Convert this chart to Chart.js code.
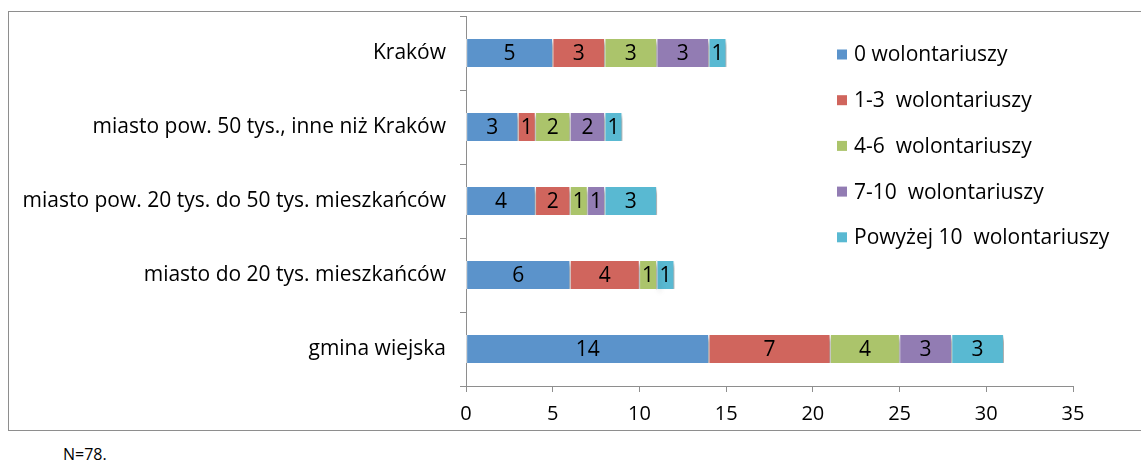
<!DOCTYPE html>
<html lang="pl">
<head>
<meta charset="utf-8">
<title>Liczba wolontariuszy wg typu gminy</title>
<script src="https://cdn.jsdelivr.net/npm/chart.js@4/dist/chart.umd.min.js"></script>
<style>
  html, body { margin: 0; padding: 0; background: #fff; }
  body { width: 1141px; height: 462px; position: relative; overflow: hidden; font-family: "Open Sans", sans-serif; }
  #frame { position: absolute; left: 8px; top: 11px; width: 1150px; height: 418px; border: 1px solid #8e8e8e; }
  #chart { position: absolute; left: 1px; top: 0px; }
  #note { position: absolute; left: 63px; top: 446px; font-size: 16px; line-height: 16px; color: #000; }
</style>
</head>
<body>
<div id="frame"><canvas id="chart" width="1132" height="418"></canvas></div>
<div id="note">N=78.</div>
<script>
// Kategorie (typ gminy), od góry do dołu
const categories = [
  'Kraków',
  'miasto pow. 50 tys., inne niż Kraków',
  'miasto pow. 20 tys. do 50 tys. mieszkańców',
  'miasto do 20 tys. mieszkańców',
  'gmina wiejska'
];

// Liczba organizacji wg liczby wolontariuszy
const seriesNames = [
  '0 wolontariuszy',
  '1-3  wolontariuszy',
  '4-6  wolontariuszy',
  '7-10  wolontariuszy',
  'Powyżej 10  wolontariuszy'
];
const zero      = [5, 3, 4, 6, 14];
const oneThree  = [3, 1, 2, 4, 7];
const fourSix   = [3, 2, 1, 1, 4];
const sevenTen  = [3, 2, 1, 0, 3];
const overTen   = [1, 1, 3, 1, 3];

const xTicks = [0, 5, 10, 15, 20, 25, 30, 35];

const colors = ['#5b93cb', '#d0655d', '#abc46b', '#927cb3', '#59b9d2'];
const seriesValues = [zero, oneThree, fourSix, sevenTen, overTen];

const fontFamily = '"Open Sans", sans-serif';
Chart.defaults.font.family = fontFamily;
Chart.defaults.font.size = 21;
Chart.defaults.color = '#000';

const axisGray = '#8e8e8e';

// Cień pod słupkami
const barShadow = {
  id: 'barShadow',
  beforeDatasetsDraw(chart) {
    const ctx = chart.ctx;
    ctx.save();
    ctx.shadowColor = 'rgba(0,0,0,0.4)';
    ctx.shadowBlur = 5;
    ctx.shadowOffsetX = 3;
    ctx.shadowOffsetY = 3;
  },
  afterDatasetsDraw(chart) {
    chart.ctx.restore();
  }
};

// Wartości w środku segmentów
const segmentLabels = {
  id: 'segmentLabels',
  afterDatasetsDraw(chart) {
    const ctx = chart.ctx;
    ctx.save();
    ctx.font = '21px ' + fontFamily;
    ctx.fillStyle = '#000';
    ctx.textAlign = 'center';
    ctx.textBaseline = 'middle';
    chart.data.datasets.forEach((ds, i) => {
      const meta = chart.getDatasetMeta(i);
      meta.data.forEach((el, j) => {
        const v = ds.data[j];
        if (!v) return;
        const p = el.getProps(['x', 'y', 'base'], true);
        ctx.fillText(String(v), (p.x + p.base) / 2, p.y + 1);
      });
    });
    ctx.restore();
  }
};

// Legenda po prawej stronie, nad obszarem wykresu
const sideLegend = {
  id: 'sideLegend',
  afterDraw(chart) {
    const ctx = chart.ctx;
    ctx.save();
    ctx.font = '21px ' + fontFamily;
    ctx.textAlign = 'left';
    ctx.textBaseline = 'middle';
    const x0 = 827, y0 = 42.5, step = 45.7, box = 10;
    chart.data.datasets.forEach((ds, i) => {
      const cy = y0 + i * step;
      ctx.fillStyle = ds.backgroundColor;
      ctx.fillRect(x0, cy - box / 2, box, box);
      ctx.fillStyle = '#000';
      ctx.fillText(ds.label, x0 + 17, cy + 1);
    });
    ctx.restore();
  }
};

new Chart(document.getElementById('chart'), {
  type: 'bar',
  data: {
    labels: categories,
    datasets: seriesNames.map((name, i) => ({
      label: name,
      data: seriesValues[i],
      backgroundColor: colors[i],
      borderColor: '#ffffff',
      borderWidth: { left: 1, right: 1, top: 0, bottom: 0 },
      borderSkipped: false,
      barThickness: 28
    }))
  },
  options: {
    indexAxis: 'y',
    responsive: false,
    devicePixelRatio: 1,
    animation: false,
    layout: { padding: { left: 0, right: 69, top: 4, bottom: 0 } },
    plugins: {
      legend: { display: false },
      tooltip: { enabled: false }
    },
    scales: {
      x: {
        stacked: true,
        min: 0,
        max: 35,
        afterBuildTicks(scale) { scale.ticks = xTicks.map(v => ({ value: v })); },
        afterFit(scale) {
          scale.height = 44;
          scale.paddingLeft = 0;
          scale.paddingRight = 0;
        },
        ticks: { padding: 10, font: { size: 20 } },
        grid: { drawOnChartArea: false, drawTicks: true, tickLength: 6, color: axisGray },
        border: { display: true, color: axisGray }
      },
      y: {
        stacked: true,
        afterFit(scale) {
          scale.width = 456;
          scale.paddingTop = 0;
          scale.paddingBottom = 0;
        },
        ticks: { padding: 14 },
        grid: { drawOnChartArea: false, drawTicks: true, tickLength: 6, offset: true, color: axisGray },
        border: { display: true, color: axisGray }
      }
    }
  },
  plugins: [barShadow, segmentLabels, sideLegend]
});
</script>
</body>
</html>
